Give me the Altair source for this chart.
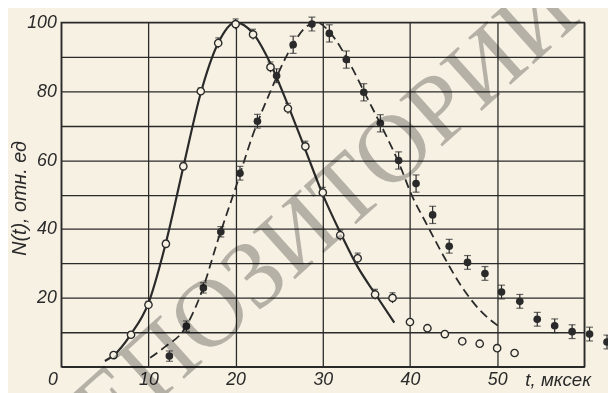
import altair as alt
import pandas as pd

# open circles (first series)
open_t = [6, 8, 10, 12, 14, 16, 18, 20, 22, 24, 26, 28, 30, 32, 34, 36, 38, 40, 42, 44, 46, 48, 50, 52]
open_n = [3.4, 9.3, 18, 35.7, 58.2, 80, 94, 99.5, 96.5, 87, 75, 64, 50.6, 38.2, 31.5, 21, 20, 13, 11.2, 9.5, 7.4, 6.7, 5.4, 4]
open_err = [0, 0.8, 1, 1, 1, 1, 1.5, 1.5, 1.5, 1.5, 1.5, 1.5, 1.5, 1.5, 1.5, 1.5, 1.5, 0, 0, 0, 0, 0, 0, 0]

# filled circles (second series)
fill_t = [12.4, 14.35, 16.3, 18.3, 20.5, 22.5, 24.7, 26.6, 28.75, 30.75, 32.7, 34.7, 36.6, 38.7, 40.7,
          42.6, 44.5, 46.6, 48.6, 50.5, 52.6, 54.6, 56.6, 58.6, 60.6, 62.6]
fill_n = [3.1, 11.8, 22.9, 39.2, 56.2, 71.3, 84.5, 93.5, 99.5, 96.8, 89.2, 79.7, 70.7, 59.9, 53.2,
          44.1, 35, 30.3, 27.1, 21.7, 19, 13.8, 11.9, 10.2, 9.5, 7.2]
fill_err = [1.5, 1.5, 1.5, 1.5, 2, 2, 2, 2.5, 2, 2.5, 2.5, 2.5, 2.5, 2.5, 2.5,
            2.5, 2, 2, 2, 2, 2, 2, 2, 2, 2, 2]

# solid curve
solid_t = [5, 6, 8, 10, 12, 14, 16, 18, 20, 22, 24, 26, 28, 30, 32, 34, 36, 38.2]
solid_n = [1.7, 3.3, 9.5, 18.5, 36, 58, 79.5, 94, 100, 96.8, 88, 76, 63, 50, 39, 29, 21.2, 12.8]

# dashed curve
dash_t = [10.2, 12, 14, 16, 18, 20, 22, 24, 26, 28, 29.3, 31, 33, 35, 37, 39, 40, 42, 44, 46, 48, 50.2]
dash_n = [2.6, 6, 10.5, 21, 37, 52, 67.5, 80, 91, 98.5, 100, 96.5, 88.5, 78.5, 68.5, 57.5, 51, 41, 31.5, 23, 16.5, 11.7]

x_ticks = [0, 10, 20, 30, 40, 50, 60]
y_ticks = [0, 10, 20, 30, 40, 50, 60, 70, 80, 90, 100]
watermark = ["РЕПОЗИТОРИЙ"]

BG = "#f6f1e3"
INK = "#2a2a2a"
FONT = "Liberation Sans"

open_df = pd.DataFrame({"t": open_t, "n": open_n, "err": open_err})
open_df["lo"] = open_df["n"] - open_df["err"]
open_df["hi"] = open_df["n"] + open_df["err"]
open_eb = open_df[open_df["err"] > 0]

fill_df = pd.DataFrame({"t": fill_t, "n": fill_n, "err": fill_err})
fill_df["lo"] = fill_df["n"] - fill_df["err"]
fill_df["hi"] = fill_df["n"] + fill_df["err"]

solid_df = pd.DataFrame({"t": solid_t, "n": solid_n})
dash_df = pd.DataFrame({"t": dash_t, "n": dash_n})
wm_df = pd.DataFrame({"w": watermark})

xs = alt.Scale(domain=[0, 60], nice=False, zero=False)
ys = alt.Scale(domain=[0, 100], nice=False)

x_axis = alt.Axis(values=x_ticks, labelExpr="datum.value < 60 ? datum.label : ''",
                  grid=True, ticks=False, tickSize=0, domain=False, labelPadding=13,
                  labelBaseline="middle", labelFlush=False,
                  labelOffset={"condition": {"test": "datum.value == 0", "value": -9}, "value": 0},
                  title="t, мксек", titleX=503, titleY=13, titleAlign="center",
                  titleBaseline="middle", titleFontSize=19)
y_axis = alt.Axis(values=y_ticks,
                  labelExpr="(datum.value % 20 == 0 && datum.value > 0) ? datum.label : ''",
                  grid=True, ticks=False, tickSize=0, domain=False, labelPadding=5,
                  labelBaseline="middle", labelFlush=False,
                  title="N(t), отн. ед", titleX=-42, titleY=178, titleAngle=270,
                  titleAlign="center", titleBaseline="middle", titleFontSize=20)

X = alt.X("t:Q", scale=xs, axis=x_axis)
Y = alt.Y("n:Q", scale=ys, axis=y_axis)
YLO = alt.Y("lo:Q", scale=ys, axis=y_axis)

solid = alt.Chart(solid_df).mark_line(color=INK, strokeWidth=2.2, interpolate="monotone").encode(x=X, y=Y)
dashed = alt.Chart(dash_df).mark_line(color=INK, strokeWidth=1.8, strokeDash=[9, 5],
                                      interpolate="monotone").encode(x=X, y=Y)

open_bar = alt.Chart(open_eb).mark_rule(color=INK, strokeWidth=1.2).encode(x=X, y=YLO, y2="hi:Q")
open_cap_hi = alt.Chart(open_eb).mark_tick(color=INK, orient="horizontal", size=6, thickness=1.2).encode(
    x=X, y=alt.Y("hi:Q", scale=ys, axis=y_axis))
fill_bar = alt.Chart(fill_df).mark_rule(color=INK, strokeWidth=1.2).encode(x=X, y=YLO, y2="hi:Q")
fill_cap_hi = alt.Chart(fill_df).mark_tick(color=INK, orient="horizontal", size=7, thickness=1.2).encode(
    x=X, y=alt.Y("hi:Q", scale=ys, axis=y_axis))
fill_cap_lo = alt.Chart(fill_df).mark_tick(color=INK, orient="horizontal", size=7, thickness=1.2).encode(
    x=X, y=YLO)

open_pts = alt.Chart(open_df).mark_point(shape="circle", size=55, filled=True, fill=BG, stroke=INK,
                                         strokeWidth=1.4, opacity=1).encode(x=X, y=Y)
fill_pts = alt.Chart(fill_df).mark_point(shape="circle", size=60, filled=True, color=INK,
                                         opacity=1).encode(x=X, y=Y)

wm = alt.Chart(wm_df).mark_text(font="Liberation Serif", fontSize=98, angle=318, color="#bcbcbc",
                                blend="multiply", align="center", baseline="middle").encode(
    text="w:N", x=alt.value(249), y=alt.value(210))

chart = alt.layer(solid, dashed, open_bar, open_cap_hi, fill_bar, fill_cap_hi, fill_cap_lo,
                  open_pts, fill_pts, wm).properties(
    width=530, height=349,
    autosize=alt.AutoSizeParams(type="none"),
    padding={"left": 54, "top": 12, "right": 24, "bottom": 24},
    background=BG,
).configure_view(stroke=INK, strokeWidth=1.5).configure_axis(
    gridColor=INK, gridWidth=1.3, gridOpacity=1,
    labelFont=FONT, labelFontSize=18, labelFontStyle="italic", labelColor=INK,
    titleFont=FONT, titleFontSize=18, titleFontStyle="italic", titleFontWeight="normal", titleColor=INK,
)

chart.save("out.html", embed_options={"renderer": "svg", "actions": False})
